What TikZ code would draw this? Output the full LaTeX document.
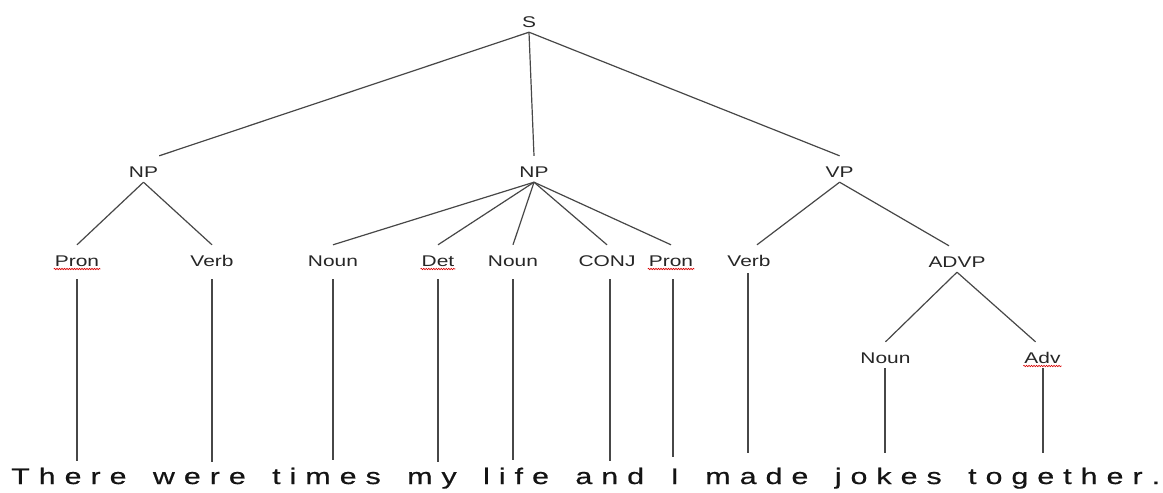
\documentclass[tikz,border=0pt]{standalone}
\usepackage{fontspec}
\newfontfamily\lblfont{Liberation Sans}[FakeStretch=1.35]
\newfontfamily\sentfont{Liberation Sans}[FakeStretch=1.35,FakeBold=0.6]
\usetikzlibrary{decorations.pathmorphing}
\newlength\lsamt
\setlength\lsamt{9pt}
\makeatletter
\newcommand\spacedtext[1]{\spacedtext@#1\@nil}
\def\spacedtext@#1{\ifx#1\@nil\else#1\kern\lsamt\expandafter\spacedtext@\fi}
\makeatother
\begin{document}
\begin{tikzpicture}[x=1pt,y=-1pt,
  lbl/.style={font=\lblfont\fontsize{15.5}{18}\selectfont, text=black!85, inner xsep=1pt, inner ysep=0pt, text height=21pt, text depth=5pt, anchor=base},
  edge/.style={draw=black!72, line width=1.2pt},
  leaf/.style={edge, shorten <=8pt},
  squig/.style={draw=red!85!black, line width=0.6pt, decorate, decoration={snake, amplitude=0.7pt, segment length=2.5pt}},
  sentence/.style={font=\sentfont\fontsize{22.5}{27}\selectfont, text=black!92, inner sep=0pt, anchor=base west}]
\useasboundingbox (0,0) rectangle (1163,493);
% nodes
\node[lbl] (S) at (529,27) {S};
\node[lbl] (NP1) at (143.5,177) {NP};
\node[lbl] (NP2) at (534,177) {NP};
\node[lbl] (VP) at (839.6,177) {VP};
\node[lbl] (Pron1) at (77,266) {Pron};
\node[lbl] (Verb1) at (212,266) {Verb};
\node[lbl] (Noun1) at (333,266) {Noun};
\node[lbl] (Det) at (438,266) {Det};
\node[lbl] (Noun2) at (513,266) {Noun};
\node[lbl] (CONJ) at (607,266) {CONJ};
\node[lbl] (Pron2) at (671,266) {Pron};
\node[lbl] (Verb2) at (749,266) {Verb};
\node[lbl] (ADVP) at (957,267) {ADVP};
\node[lbl] (Noun3) at (885.5,363) {Noun};
\node[lbl] (Adv) at (1042.5,363) {Adv};
\node[sentence] (sent) at (11,484) {\spacedtext{There~were~times~my~life~and~I~made~jokes~together.}};
% word end points
\coordinate (w1) at (77,461);
\coordinate (w2) at (212,462);
\coordinate (w3) at (333,460);
\coordinate (w4) at (438,462);
\coordinate (w5) at (513,460);
\coordinate (w6) at (610,461);
\coordinate (w7) at (673,457);
\coordinate (w8) at (748,453);
\coordinate (w9) at (885,453);
\coordinate (w10) at (1043,453);
% tree edges
\draw[edge] (S.south) -- (NP1.north east);
\draw[edge] (S.south) -- (NP2.north);
\draw[edge] (S.south) -- (VP.north);
\draw[edge] (NP1.south) -- (Pron1.north);
\draw[edge] (NP1.south) -- (Verb1.north);
\draw[edge] (NP2.south) -- (Noun1.north);
\draw[edge] (NP2.south) -- (Det.north);
\draw[edge] (NP2.south) -- (Noun2.north);
\draw[edge] (NP2.south) -- (CONJ.north);
\draw[edge] (NP2.south) -- (Pron2.north);
\draw[edge] (VP.south) -- ([xshift=8pt]Verb2.north);
\draw[edge] (VP.south) -- ([xshift=-8pt]ADVP.north);
\draw[edge] (ADVP.south) -- (Noun3.north);
\draw[edge] (ADVP.south) -- ([xshift=-7pt]Adv.north);
% leaf lines
\draw[leaf] (Pron1.south -| w1) -- (w1);
\draw[leaf] (Verb1.south -| w2) -- (w2);
\draw[leaf] (Noun1.south -| w3) -- (w3);
\draw[leaf] (Det.south -| w4) -- (w4);
\draw[leaf] (Noun2.south -| w5) -- (w5);
\draw[leaf] (CONJ.south -| w6) -- (w6);
\draw[leaf] (Pron2.south -| w7) -- (w7);
\draw[edge, shorten <=2pt] (Verb2.south -| w8) -- (w8);
\draw[edge] (Noun3.south -| w9) -- (w9);
\draw[edge] (Adv.south -| w10) -- (w10);
% spell-check underlines
\draw[squig] ([yshift=-3pt]Pron1.base west) -- ([yshift=-3pt]Pron1.base east);
\draw[squig] ([yshift=-3pt]Det.base west) -- ([yshift=-3pt]Det.base east);
\draw[squig] ([yshift=-3pt]Pron2.base west) -- ([yshift=-3pt]Pron2.base east);
\draw[squig] ([yshift=-3pt]Adv.base west) -- ([yshift=-3pt]Adv.base east);
\end{tikzpicture}
\end{document}
